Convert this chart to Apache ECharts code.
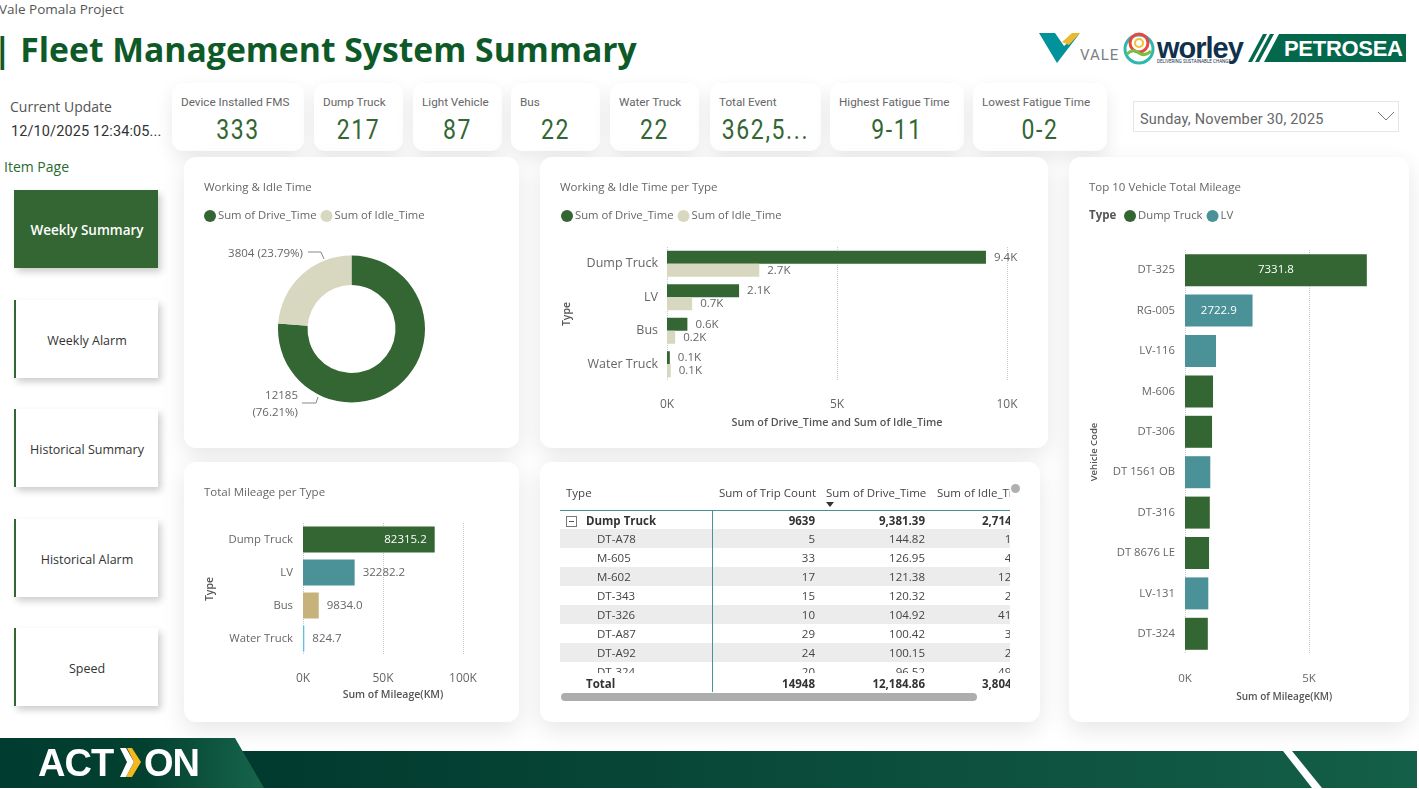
<!DOCTYPE html>
<html>
<head>
<meta charset="UTF-8">
<title>Fleet Management System Summary</title>
<script src="https://cdn.jsdelivr.net/npm/echarts@6/dist/echarts.min.js"></script>
<style>
    html, body { margin: 0; padding: 0; background: #fff; }
    #page { position: relative; width: 1419px; height: 789px; overflow: hidden; font-family: "Open Sans", sans-serif; color: #555; }
    .abs { position: absolute; white-space: nowrap; }
    .card { position: absolute; background: #fff; border-radius: 12px; box-shadow: 0 8px 24px rgba(0,0,0,.1); }
    .kpi { position: absolute; top: 83px; height: 68px; background: #fff; border-radius: 11px; box-shadow: 0 7px 18px rgba(0,0,0,.09); }
    .kpi .lab { position: absolute; top: 12px; left: 9px; font: 11.7px Roboto, sans-serif; color: #666; white-space: nowrap; }
    .kpi .val { position: absolute; top: 30px; left: 0; right: 0; text-align: center; font: 28px Roboto, sans-serif; letter-spacing: 2px; color: #336633; white-space: nowrap; transform: scaleX(.82); }
    .nav { position: absolute; left: 14px; width: 142px; height: 78px; line-height: 81px; text-align: center; background: #fff; border-left: 2px solid #336633; box-shadow: 3px 4px 7px rgba(0,0,0,.2); font-size: 12.5px; color: #333; }
    .nav.on { background: #336633; color: #fff; font-size: 13.5px; font-weight: 600; }
    .chart { position: absolute; left: 0; top: 0; width: 100%; height: 100%; }
    #tbl { position: absolute; left: 560px; top: 484px; width: 450px; height: 208px; overflow: hidden; font-size: 11.5px; color: #444; }
    #tbl .row { position: absolute; left: 0; height: 19px; line-height: 19px; width: 490px; white-space: nowrap; }
    #tbl .row span { position: absolute; top: 0; }
    #tbl .c0 { left: 37px; }
    #tbl .c1 { right: 235px; }
    #tbl .c2 { right: 125px; }
    #tbl .c3 { right: 16px; }
    #tbl .b .c3 { right: 22px; }
    #tbl .band { background: #ececec; }
    #tbl .b { font-weight: 700; color: #333; }
</style>
</head>
<body>
<div id="page">
    <div class="abs" style="left:-1px;top:0;font-size:13.5px;color:#555">Vale Pomala Project</div>
    <div class="abs" style="left:-7px;top:25px;font-size:33.7px;font-weight:700;color:#0d5a28;line-height:48px">| Fleet Management System Summary</div>

    <svg class="abs" style="left:1035px;top:28px" width="380" height="42" viewBox="0 0 380 42">
        <polygon points="4,5 20,5 29,18 45,5 22,35" fill="#00939b"/>
        <polygon points="27,14 37,5 45,5 34,17" fill="#edb92e"/>
        <text x="45" y="32" font-family="Roboto" font-size="15" letter-spacing="1" fill="#7a8184">VALE</text>
        <circle cx="104" cy="21" r="14" fill="none" stroke="#2fb7b0" stroke-width="3"/>
        <circle cx="104" cy="15" r="9" fill="none" stroke="#e8483f" stroke-width="3"/>
        <circle cx="104" cy="15" r="4" fill="none" stroke="#f2c230" stroke-width="2"/>
        <path d="M92 26 q6 -6 12 -1 q6 4 12 -2" fill="none" stroke="#76c043" stroke-width="3"/>
        <text x="122" y="30" font-family="Liberation Sans" font-weight="700" font-size="29" letter-spacing="-1" fill="#10314c">worley</text>
        <text x="122" y="35" font-family="Roboto" font-size="4.5" fill="#10314c">DELIVERING SUSTAINABLE CHANGE</text>
        <polygon points="213,34 228,6 232,6 217,34" fill="#04684c"/>
        <polygon points="220,34 235,6 239,6 224,34" fill="#04684c"/>
        <polygon points="229,34 244,6 371,6 371,34" fill="#04684c"/>
        <text x="249" y="28" font-family="Liberation Sans" font-weight="700" font-size="22" letter-spacing="-.3" fill="#fff">PETROSEA</text>
    </svg>

    <div class="abs" style="left:10px;top:97px;font-size:14px;color:#555">Current Update</div>
    <div class="abs" style="left:11px;top:123px;font:14.5px Roboto,sans-serif;letter-spacing:.1px;color:#333">12/10/2025 12:34:05...</div>
    <div class="abs" style="left:4px;top:157px;font-size:14px;color:#2a6a32">Item Page</div>
    <div id="kpis"></div>

    <div class="abs" style="left:1133px;top:101px;width:264px;height:29px;border:1px solid #e6e6e6;background:#fff">
        <div class="abs" style="left:6px;top:9px;font:14.5px Roboto,sans-serif;letter-spacing:.2px;color:#666">Sunday, November 30, 2025</div>
        <svg class="abs" style="left:243px;top:9px" width="18" height="11"><polyline points="1,1 9,9 17,1" fill="none" stroke="#777" stroke-width="1"/></svg>
    </div>

    <div id="navs"></div>

    <div class="card" style="left:184px;top:157px;width:335px;height:291px"><div id="donut" class="chart"></div></div>
    <div class="card" style="left:540px;top:157px;width:508px;height:291px"><div id="perType" class="chart"></div></div>
    <div class="card" style="left:1069px;top:157px;width:340px;height:565px"><div id="top10" class="chart"></div></div>
    <div class="card" style="left:184px;top:462px;width:335px;height:260px"><div id="mileage" class="chart"></div></div>
    <div class="card" style="left:540px;top:462px;width:500px;height:260px"></div>

    <div id="tbl"></div>
    <div class="abs" style="left:1011px;top:484px;width:9px;height:9px;border-radius:5px;background:#b0b0b0"></div>
    <div class="abs" style="left:561px;top:693px;width:416px;height:8px;border-radius:4px;background:#adadad"></div>

    <svg class="abs" style="left:0;top:735px" width="1419" height="54" viewBox="0 0 1419 54">
        <defs>
            <linearGradient id="bandG" x1="0" x2="1" y1="0" y2="0"><stop offset="0" stop-color="#00382d"/><stop offset="1" stop-color="#145f48"/></linearGradient>
            <linearGradient id="tabG" x1="0" x2="1" y1="0" y2="0"><stop offset="0" stop-color="#003c30"/><stop offset=".55" stop-color="#02402f"/><stop offset="1" stop-color="#17654b"/></linearGradient>
        </defs>
        <rect x="200" y="16" width="1217" height="37" fill="url(#bandG)"/>
        <polygon points="1283,16 1292,16 1322,53 1312,53" fill="#fff"/>
        <polygon points="0,3 235,3 264,53 0,53" fill="url(#tabG)"/>
        <text x="38" y="41" font-family="Liberation Sans" font-weight="700" font-size="38" letter-spacing="-1" fill="#fff">ACT</text>
        <polygon points="120,13 126,13 134,27 126,42 120,42 127,27" fill="#fff"/>
        <polygon points="127,13 132,13 141,27 132,42 126,42 134,27" fill="#f4b81f"/>
        <text x="144" y="41" font-family="Liberation Sans" font-weight="700" font-size="38" letter-spacing="-1" fill="#fff">ON</text>
    </svg>
</div>

<script>
    var kpiLabels = ['Device Installed FMS', 'Dump Truck', 'Light Vehicle', 'Bus', 'Water Truck', 'Total Event', 'Highest Fatigue Time', 'Lowest Fatigue Time'];
    var kpiValues = ['333', '217', '87', '22', '22', '362,5...', '9-11', '0-2'];
    var navItems = ['Weekly Summary', 'Weekly Alarm', 'Historical Summary', 'Historical Alarm', 'Speed'];

    var donutNames = ['Sum of Drive_Time', 'Sum of Idle_Time'];
    var donutValues = [12185, 3804];

    var types = ['Dump Truck', 'LV', 'Bus', 'Water Truck'];
    var driveTime = [9381, 2120, 600, 84];
    var idleTime = [2714, 740, 240, 110];
    var mileage = [82315.2, 32282.2, 9834.0, 824.7];

    var vehicleCodes = ['DT-325', 'RG-005', 'LV-116', 'M-606', 'DT-306', 'DT 1561 OB', 'DT-316', 'DT 8676 LE', 'LV-131', 'DT-324'];
    var dumpMileage = [7331.8, null, null, 1130, 1090, null, 1000, 970, null, 920];
    var lvMileage = [null, 2722.9, 1250, null, null, 1020, null, null, 940, null];

    var tableCodes = ['DT-A78', 'M-605', 'M-602', 'DT-343', 'DT-326', 'DT-A87', 'DT-A92', 'DT-324'];
    var tableTrips = ['5', '33', '17', '15', '10', '29', '24', '20'];
    var tableDrive = ['144.82', '126.95', '121.38', '120.32', '104.92', '100.42', '100.15', '96.52'];
    var tableIdle = ['18.40', '45.20', '124.30', '27.10', '412.50', '36.80', '25.60', '491.20'];

    var GREEN = '#336633', TAN = '#d8d7c0', TEAL = '#4b9198';
    var FONT = 'Open Sans';

    // kpi cards and nav buttons
    var kpiBoxes = [[172, 132], [314, 89], [413, 89], [511, 89], [610, 89], [710, 111], [830, 134], [973, 134]];
    var kpiHtml = '';
    kpiLabels.forEach(function (l, i) {
        kpiHtml += '<div class="kpi" style="left:' + kpiBoxes[i][0] + 'px;width:' + kpiBoxes[i][1] + 'px">' +
            '<div class="lab">' + l + '</div><div class="val">' + kpiValues[i] + '</div></div>';
    });
    document.getElementById('kpis').innerHTML = kpiHtml;

    var navTops = [190, 300, 409, 519, 628];
    var navHtml = '';
    navItems.forEach(function (n, i) {
        navHtml += '<div class="nav' + (i === 0 ? ' on' : '') + '" style="top:' + navTops[i] + 'px">' + n + '</div>';
    });
    document.getElementById('navs').innerHTML = navHtml;

    // table
    function tableRow(top, cls, a, b, c, d) {
        return '<div class="row ' + cls + '" style="top:' + top + 'px"><span class="c0" style="' + (cls === 'b' ? 'left:26px' : '') + '">' + a + '</span>' +
            '<span class="c1">' + b + '</span><span class="c2">' + c + '</span><span class="c3">' + d + '</span></div>';
    }
    var t = '<div class="abs" style="left:6px;top:-1px;line-height:19px">Type</div>' +
        '<div class="abs" style="left:159px;top:-1px;line-height:19px">Sum of Trip Count</div>' +
        '<div class="abs" style="left:266px;top:-1px;line-height:19px">Sum of Drive_Time</div>' +
        '<div class="abs" style="left:377px;top:-1px;line-height:19px">Sum of Idle_Time</div>' +
        '<div class="abs" style="left:266px;top:18px;width:0;height:0;border:4px solid transparent;border-top:5px solid #333"></div>' +
        '<div class="abs" style="left:0;top:26px;width:450px;height:1px;background:#4b9198"></div>';
    t += tableRow(27, 'b', 'Dump Truck', '9639', '9,381.39', '2,714.40');
    t += '<div class="abs" style="left:6px;top:32px;width:9px;height:9px;border:1px solid #777"><div class="abs" style="left:2px;top:4px;width:5px;height:1px;background:#555"></div></div>';
    tableCodes.forEach(function (code, i) {
        t += tableRow(45 + i * 19, i % 2 === 0 ? 'band' : '', code, tableTrips[i], tableDrive[i], tableIdle[i]);
    });
    t += '<div class="abs" style="left:0;top:189px;width:450px;height:19px;background:#fff"></div>';
    t += tableRow(190, 'b', 'Total', '14948', '12,184.86', '3,804.00');
    t += '<div class="abs" style="left:152px;top:26px;width:1px;height:182px;background:#4b9198"></div>';
    document.getElementById('tbl').innerHTML = t;

    function titleOf(text) {
        return { text: text, left: 15, top: 20, textStyle: { fontFamily: FONT, fontSize: 11.5, fontWeight: 'normal', color: '#666' } };
    }
    function legendOf(names, left) {
        return {
            data: names, left: left, top: 48, icon: 'circle', itemWidth: 12, itemHeight: 12, itemGap: 4,
            textStyle: { fontFamily: FONT, fontSize: 11.3, color: '#666', padding: [0, 0, 0, -3] }
        };
    }
    function axisName(size) {
        return { fontFamily: FONT, fontSize: size, fontWeight: 600, color: '#555' };
    }
    var gridDots = { type: 'dotted', color: '#c8c8c8' };
    function kFormat(v) { return (v / 1000) + 'K'; }
    function k1Format(p) { return (p.value / 1000).toFixed(1) + 'K'; }

    // donut
    var donut = echarts.init(document.getElementById('donut'));
    donut.setOption({
        animation: false,
        title: titleOf('Working & Idle Time'),
        legend: legendOf(donutNames, 15),
        color: [GREEN, TAN],
        series: [{
            type: 'pie',
            center: [167.5, 172],
            radius: [44, 73.5],
            startAngle: 90,
            silent: true,
            data: donutNames.map(function (n, i) { return { name: n, value: donutValues[i] }; }),
            label: {
                fontFamily: FONT, fontSize: 11.5, color: '#666', align: 'right', lineHeight: 17, overflow: 'none',
                formatter: function (p) {
                    return p.dataIndex === 0 ? p.value + '\n(' + p.percent.toFixed(2) + '%)' : p.value + ' (' + p.percent.toFixed(2) + '%)';
                }
            },
            labelLine: { show: true, lineStyle: { color: '#888', width: 1 } },
            labelLayout: function (p) {
                return p.dataIndex === 0 ?
                    { x: 114, y: 247, align: 'right', verticalAlign: 'middle', labelLinePoints: [[134, 240], [132, 246], [118, 246]] } :
                    { x: 119, y: 97, align: 'right', verticalAlign: 'middle', labelLinePoints: [[140, 102], [137, 95], [124, 95]] };
            }
        }]
    });

    // working and idle time per type
    var perType = echarts.init(document.getElementById('perType'));
    var perTypeLabel = { show: true, position: 'right', distance: 8, fontFamily: FONT, fontSize: 11.5, color: '#666', formatter: k1Format };
    perType.setOption({
        animation: false,
        title: titleOf('Working & Idle Time per Type'),
        legend: legendOf(donutNames, 16),
        color: [GREEN, TAN],
        grid: { left: 127, top: 90, width: 340, height: 134 },
        xAxis: {
            type: 'value', min: 0, max: 10000, interval: 5000,
            name: 'Sum of Drive_Time and Sum of Idle_Time', nameLocation: 'middle', nameGap: 36, nameTextStyle: axisName(10.8),
            axisLabel: { fontFamily: FONT, fontSize: 12, color: '#666', margin: 18, formatter: kFormat },
            splitLine: { lineStyle: gridDots }
        },
        yAxis: {
            type: 'category', data: types, inverse: true,
            name: 'Type', nameLocation: 'middle', nameGap: 94, nameTextStyle: axisName(10.5),
            axisLine: { show: false }, axisTick: { show: false },
            axisLabel: { fontFamily: FONT, fontSize: 12.5, color: '#666', margin: 9, padding: [4, 0, 0, 0] }
        },
        series: [
            { name: donutNames[0], type: 'bar', data: driveTime, barWidth: 13, barGap: 0, label: perTypeLabel },
            { name: donutNames[1], type: 'bar', data: idleTime, barWidth: 13, label: perTypeLabel }
        ]
    });

    // total mileage per type
    var mileageColors = [GREEN, TEAL, '#c8b27c', '#5bbfe8'];
    var mileageChart = echarts.init(document.getElementById('mileage'));
    mileageChart.setOption({
        animation: false,
        title: titleOf('Total Mileage per Type'),
        grid: { left: 119, top: 61, width: 160, height: 132 },
        xAxis: {
            type: 'value', min: 0, max: 100000, interval: 50000,
            name: 'Sum of Mileage(KM)', nameLocation: 'middle', nameGap: 34, nameTextStyle: Object.assign(axisName(10.5), { padding: [0, 0, 0, 20] }),
            axisLabel: { fontFamily: FONT, fontSize: 12, color: '#666', margin: 18, formatter: kFormat },
            splitLine: { lineStyle: gridDots }
        },
        yAxis: {
            type: 'category', data: types, inverse: true,
            name: 'Type', nameLocation: 'middle', nameGap: 87, nameTextStyle: axisName(10.5),
            axisLine: { show: false }, axisTick: { show: false },
            axisLabel: { fontFamily: FONT, fontSize: 11.3, color: '#666', margin: 10, padding: [1, 0, 0, 0] }
        },
        series: [{
            type: 'bar', barWidth: 26,
            data: mileage.map(function (v, i) {
                return {
                    value: v, itemStyle: { color: mileageColors[i] },
                    label: i === 0 ? { position: 'insideRight', color: '#fff', distance: 8 } : { position: 'right', color: '#666', distance: 8 }
                };
            }),
            label: { show: true, fontFamily: FONT, fontSize: 11.5, formatter: function (p) { return p.value.toFixed(1); } }
        }]
    });

    // top 10 vehicles
    var top10 = echarts.init(document.getElementById('top10'));
    var top10Label = {
        show: true, position: 'inside', fontFamily: FONT, fontSize: 11.5, color: '#fff', padding: [3, 0, 0, 0],
        formatter: function (p) { return p.value > 2000 ? p.value.toFixed(1) : ''; }
    };
    top10.setOption({
        animation: false,
        title: [titleOf('Top 10 Vehicle Total Mileage'),
            { text: 'Type', left: 15, top: 48, textStyle: { fontFamily: FONT, fontSize: 11.5, fontWeight: 700, color: '#555' } }],
        legend: legendOf(['Dump Truck', 'LV'], 50),
        color: [GREEN, TEAL],
        grid: { left: 116, top: 93, width: 198.4, height: 404 },
        xAxis: {
            type: 'value', min: 0, max: 8000, interval: 5000,
            name: 'Sum of Mileage(KM)', nameLocation: 'middle', nameGap: 38, nameTextStyle: axisName(10),
            axisLabel: { fontFamily: FONT, fontSize: 11.5, color: '#666', margin: 19, showMaxLabel: false, formatter: kFormat },
            splitLine: { showMaxLine: false, lineStyle: gridDots }
        },
        yAxis: {
            type: 'category', data: vehicleCodes, inverse: true,
            name: 'Vehicle Code', nameLocation: 'middle', nameGap: 86, nameTextStyle: axisName(9.5),
            axisLine: { show: false }, axisTick: { show: false },
            axisLabel: { fontFamily: FONT, fontSize: 11.3, color: '#666', margin: 10, padding: [3, 0, 0, 0] }
        },
        series: [
            { name: 'Dump Truck', type: 'bar', data: dumpMileage, barWidth: 32, barGap: '-100%', label: top10Label },
            { name: 'LV', type: 'bar', data: lvMileage, barWidth: 32, label: top10Label }
        ]
    });
</script>
</body>
</html>
